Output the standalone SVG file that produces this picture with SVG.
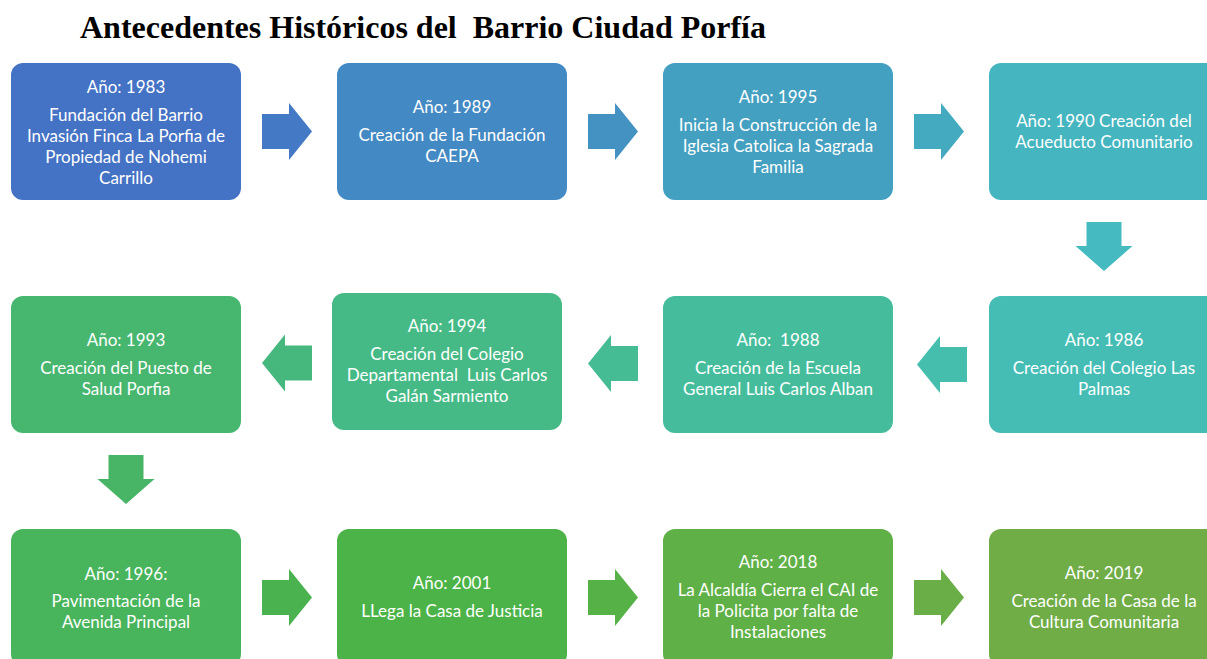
<svg xmlns="http://www.w3.org/2000/svg" width="1207" height="659" viewBox="0 0 1207 659">
<style>
.t{font-family:Lato,"Open Sans","Liberation Sans",sans-serif;font-size:17px;fill:#ffffff;text-anchor:middle}
.title{font-family:"Liberation Serif","Times New Roman",serif;font-size:31px;font-weight:bold;fill:#000000;white-space:pre}
</style>
<defs>
<path id="ar" d="M0,-17.5 H27 V-28.5 L50,0 L27,28.5 V17.5 H0 Z"/>
<path id="al" d="M0,-17.5 H-27 V-28.5 L-50,0 L-27,28.5 V17.5 H0 Z"/>
<path id="ad" d="M-17.5,0 V24 H-28.5 L0,49 L28.5,24 H17.5 V0 Z"/>
</defs>
<rect width="1207" height="659" fill="#ffffff"/>
<text class="title" x="80" y="38" textLength="686" lengthAdjust="spacingAndGlyphs" xml:space="preserve">Antecedentes Históricos del  Barrio Ciudad Porfía</text>

<g id="connectors">
<use href="#ar" x="262" y="131.5" fill="#4479C5"/>
<use href="#ar" x="588" y="131.5" fill="#4392C2"/>
<use href="#ar" x="914" y="131.5" fill="#44AAC0"/>
<use href="#ad" x="1104" y="222" fill="#45BAC0"/>
<use href="#al" x="967" y="364.5" fill="#45BEAD"/>
<use href="#al" x="638" y="363.5" fill="#46BC94"/>
<use href="#al" x="312" y="363" fill="#46B87D"/>
<use href="#ad" x="126" y="455" fill="#48B566"/>
<use href="#ar" x="262" y="597.5" fill="#4AB350"/>
<use href="#ar" x="588" y="597.5" fill="#56B147"/>
<use href="#ar" x="914" y="597.5" fill="#69AE47"/>
</g>

<g id="n1983">
<rect x="11" y="63" width="230" height="137" rx="12" fill="#4472C4"/>
<text class="t" x="126" y="93">Año: 1983</text>
<text class="t" x="126" y="121">Fundación del Barrio</text>
<text class="t" x="126" y="142">Invasión Finca La Porfia de</text>
<text class="t" x="126" y="163">Propiedad de Nohemi</text>
<text class="t" x="126" y="184">Carrillo</text>
</g>
<g id="n1989">
<rect x="337" y="63" width="230" height="137" rx="12" fill="#4389C3"/>
<text class="t" x="452" y="113">Año: 1989</text>
<text class="t" x="452" y="141">Creación de la Fundación</text>
<text class="t" x="452" y="162">CAEPA</text>
</g>
<g id="n1995">
<rect x="663" y="63" width="230" height="137" rx="12" fill="#44A0C0"/>
<text class="t" x="778" y="103">Año: 1995</text>
<text class="t" x="778" y="131">Inicia la Construcción de la</text>
<text class="t" x="778" y="152">Iglesia Catolica la Sagrada</text>
<text class="t" x="778" y="173">Familia</text>
</g>
<g id="n1990">
<rect x="989" y="63" width="230" height="137" rx="12" fill="#45B5C0"/>
<text class="t" x="1104" y="127">Año: 1990 Creación del</text>
<text class="t" x="1104" y="148">Acueducto Comunitario</text>
</g>

<g id="n1986">
<rect x="989" y="296" width="230" height="137" rx="12" fill="#45BDB5"/>
<text class="t" x="1104" y="346">Año: 1986</text>
<text class="t" x="1104" y="374">Creación del Colegio Las</text>
<text class="t" x="1104" y="395">Palmas</text>
</g>
<g id="n1988">
<rect x="663" y="296" width="230" height="137" rx="12" fill="#45BD9C"/>
<text class="t" x="778" y="346" xml:space="preserve">Año:  1988</text>
<text class="t" x="778" y="374">Creación de la Escuela</text>
<text class="t" x="778" y="395">General Luis Carlos Alban</text>
</g>
<g id="n1994">
<rect x="332" y="293" width="230" height="137" rx="12" fill="#46BA86"/>
<text class="t" x="447" y="332">Año: 1994</text>
<text class="t" x="447" y="360" xml:space="preserve">Creación del Colegio</text>
<text class="t" x="447" y="381" xml:space="preserve">Departamental  Luis Carlos</text>
<text class="t" x="447" y="402">Galán Sarmiento</text>
</g>
<g id="n1993">
<rect x="11" y="296" width="230" height="137" rx="12" fill="#47B66F"/>
<text class="t" x="126" y="346">Año: 1993</text>
<text class="t" x="126" y="374">Creación del Puesto de</text>
<text class="t" x="126" y="395">Salud Porfia</text>
</g>

<g id="n1996">
<rect x="11" y="529" width="230" height="137" rx="12" fill="#48B45B"/>
<text class="t" x="126" y="580">Año: 1996:</text>
<text class="t" x="126" y="607">Pavimentación de la</text>
<text class="t" x="126" y="628">Avenida Principal</text>
</g>
<g id="n2001">
<rect x="337" y="529" width="230" height="137" rx="12" fill="#4BB347"/>
<text class="t" x="452" y="589">Año: 2001</text>
<text class="t" x="452" y="617">LLega la Casa de Justicia</text>
</g>
<g id="n2018">
<rect x="663" y="529" width="230" height="137" rx="12" fill="#5FB047"/>
<text class="t" x="778" y="568">Año: 2018</text>
<text class="t" x="778" y="596">La Alcaldía Cierra el CAI de</text>
<text class="t" x="778" y="617">la Policita por falta de</text>
<text class="t" x="778" y="638">Instalaciones</text>
</g>
<g id="n2019">
<rect x="989" y="529" width="230" height="137" rx="12" fill="#70AD47"/>
<text class="t" x="1104" y="579">Año: 2019</text>
<text class="t" x="1104" y="607">Creación de la Casa de la</text>
<text class="t" x="1104" y="628">Cultura Comunitaria</text>
</g>
</svg>
